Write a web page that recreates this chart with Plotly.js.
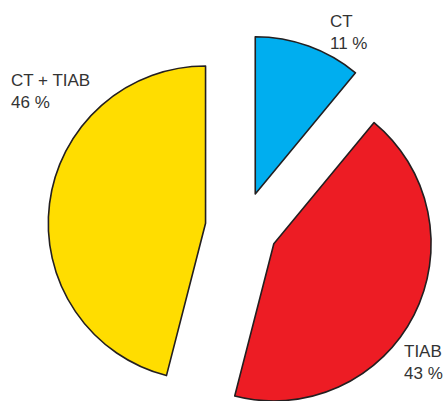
<!DOCTYPE html>
<html>
<head>
<meta charset="utf-8">
<script src="https://cdn.plot.ly/plotly-3.0.1.min.js"></script>
<style>
html,body{margin:0;padding:0;overflow:hidden;background:#fff;}
#chart{width:444px;height:456px;}
</style>
</head>
<body>
<div id="chart"></div>
<script>
const categories = ["CT", "TIAB", "CT + TIAB"];
const shares = [11, 43, 46];
const sliceColors = ["#00AEEF", "#ED1C24", "#FFDD00"];
const pulls = [0.23, 0.22, 0.24];

// label positions in paper coords (relative to pie domain)
const labelX = [0.717, 0.908, -0.0995];
const labelY = [1.060, 0.213, 0.907];

const trace = {
  type: "pie",
  values: shares,
  labels: categories,
  sort: false,
  direction: "clockwise",
  rotation: 0,
  pull: pulls,
  textinfo: "none",
  hoverinfo: "label+percent",
  marker: { colors: sliceColors, line: { color: "#231F20", width: 1.6 } },
  showlegend: false
};

const annotations = categories.map((c, i) => ({
  xref: "paper", yref: "paper",
  x: labelX[i], y: labelY[i],
  xanchor: "left", yanchor: "top",
  align: "left",
  showarrow: false,
  text: c + "<br>" + shares[i] + " %",
  font: { family: "Liberation Sans, Arial, sans-serif", size: 17, color: "#333333" }
}));

const layout = {
  width: 444, height: 456,
  margin: { l: 48, r: 6, t: 33, b: 33 },
  paper_bgcolor: "#ffffff",
  plot_bgcolor: "#ffffff",
  annotations: annotations
};

Plotly.newPlot("chart", [trace], layout, { displayModeBar: false, staticPlot: true });
</script>
</body>
</html>
